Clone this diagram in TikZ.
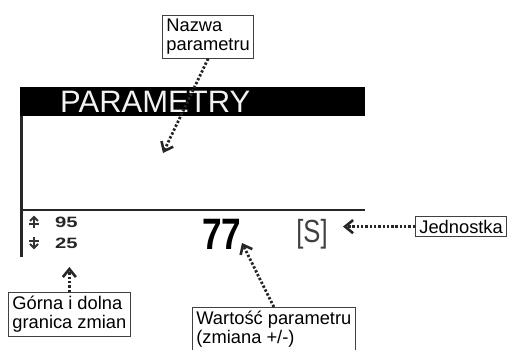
\documentclass[tikz,border=0pt]{standalone}
\usepackage{fontspec}
\setmainfont{Liberation Sans}
\usetikzlibrary{arrows.meta}
\begin{document}
\begin{tikzpicture}[x=1pt,y=-1pt,
  lbl/.style={draw=black!75, line width=0.8pt, fill=white, align=left,
    inner xsep=4pt, inner ysep=3.5pt, anchor=north west,
    font=\fontsize{18.3}{19.5}\selectfont},
  arr/.style={black!85, line width=2.8pt, dash pattern=on 2.4pt off 1.9pt,
    -{Straight Barb[length=8pt,width=13pt,line width=2.6pt]}},
  lcd/.style={inner sep=0pt, text=black!85},
  sym/.style={black!80, line width=1.8pt},
  frame/.style={line width=2.5pt, black!85}]
\useasboundingbox (0,0) rectangle (512,350);
\clip (0,0) rectangle (512,350);
% display
\fill[black] (20,87) rectangle (365,116);
\draw[frame] (21.5,116) -- (21.5,257);
\draw[frame] (21,210) -- (365,210);
\node[lcd, text=black!5, anchor=west] (title) at (60,102)
  {\fontsize{31}{31}\selectfont PARAMETRY};
% up / down limit symbols
\coordinate (upsym) at (34,222);
\coordinate (dnsym) at (34,243);
\draw[sym] ([shift={(-4,-1)}]upsym) -- ([shift={(0,-5)}]upsym) -- ([shift={(4,-1)}]upsym);
\draw[sym] ([shift={(0,-5)}]upsym) -- ([shift={(0,6)}]upsym);
\draw[sym] ([shift={(-5,2)}]upsym) -- ([shift={(5,2)}]upsym);
\draw[sym] ([shift={(-4,1)}]dnsym) -- ([shift={(0,5)}]dnsym) -- ([shift={(4,1)}]dnsym);
\draw[sym] ([shift={(0,5)}]dnsym) -- ([shift={(0,-6)}]dnsym);
\draw[sym] ([shift={(-5,-2)}]dnsym) -- ([shift={(5,-2)}]dnsym);
\node[lcd, anchor=west] (hi) at (55,222)
  {\scalebox{1.35}[1]{\fontsize{15}{15}\selectfont\bfseries 95}};
\node[lcd, anchor=west] (lo) at (55,243)
  {\scalebox{1.35}[1]{\fontsize{15}{15}\selectfont\bfseries 25}};
\node[lcd, text=black] (val) at (222,234)
  {\scalebox{0.8}[1]{\fontsize{44}{44}\selectfont\bfseries 77}};
\node[lcd, text=black!75] (unit) at (312,234)
  {\scalebox{0.8}[1]{\fontsize{32}{32}\selectfont [S]}};
% labels
\node[lbl] (nazwa) at (162,15) {Nazwa\\parametru};
\node[lbl] (jedn) at (415,216) {Jednostka};
\node[lbl] (gorna) at (8,292) {Górna i dolna\\granica zmian};
\node[lbl] (wart) at (192,307) {Wartość parametru\\(zmiana +/-)};
% connectors
\coordinate (nazwaTip) at (163,153);
\coordinate (valTip) at (242,243);
\draw[arr] (nazwa.south) -- (nazwaTip);
\draw[arr] (jedn.west) -- ++(-72,0);
\draw[arr] (gorna.north) -- ++(0,-25);
\draw[arr] (wart.north) -- (valTip);
\end{tikzpicture}
\end{document}
